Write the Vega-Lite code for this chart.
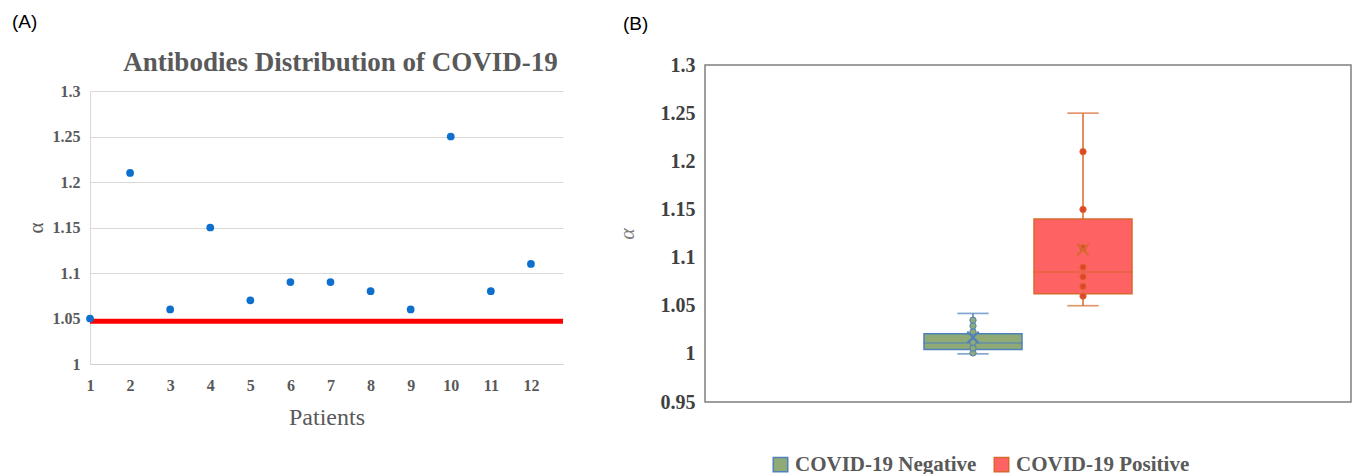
{
  "$schema": "https://vega.github.io/schema/vega-lite/v6.json",
  "padding": {"left": 12, "top": 13, "right": 2, "bottom": 0},
  "background": "white",
  "spacing": 48,
  "config": {
    "view": {"stroke": null},
    "font": "Liberation Serif",
    "title": {"font": "Liberation Sans", "fontSize": 19, "fontWeight": "normal", "color": "#000000", "anchor": "start", "frame": "bounds"}
  },
  "datasets": {
    "patients": [
      {"patient": 1, "alpha": 1.05}, {"patient": 2, "alpha": 1.21}, {"patient": 3, "alpha": 1.06},
      {"patient": 4, "alpha": 1.15}, {"patient": 5, "alpha": 1.07}, {"patient": 6, "alpha": 1.09},
      {"patient": 7, "alpha": 1.09}, {"patient": 8, "alpha": 1.08}, {"patient": 9, "alpha": 1.06},
      {"patient": 10, "alpha": 1.25}, {"patient": 11, "alpha": 1.08}, {"patient": 12, "alpha": 1.11}
    ],
    "threshold": [{"start": 1, "end": 12.8, "alpha": 1.047}],
    "boxes": [
      {"category": "1", "group": "COVID-19 Negative", "min": 1.0, "q1": 1.0045, "median": 1.0113, "q3": 1.021, "max": 1.042, "mean": 1.0172},
      {"category": "1", "group": "COVID-19 Positive", "min": 1.05, "q1": 1.0625, "median": 1.085, "q3": 1.14, "max": 1.25, "mean": 1.1083}
    ],
    "inner": [
      {"category": "1", "group": "COVID-19 Negative", "alpha": 1.001}, {"category": "1", "group": "COVID-19 Negative", "alpha": 1.006},
      {"category": "1", "group": "COVID-19 Negative", "alpha": 1.012}, {"category": "1", "group": "COVID-19 Negative", "alpha": 1.023},
      {"category": "1", "group": "COVID-19 Negative", "alpha": 1.029}, {"category": "1", "group": "COVID-19 Negative", "alpha": 1.035},
      {"category": "1", "group": "COVID-19 Positive", "alpha": 1.06}, {"category": "1", "group": "COVID-19 Positive", "alpha": 1.07},
      {"category": "1", "group": "COVID-19 Positive", "alpha": 1.08}, {"category": "1", "group": "COVID-19 Positive", "alpha": 1.09},
      {"category": "1", "group": "COVID-19 Positive", "alpha": 1.11}, {"category": "1", "group": "COVID-19 Positive", "alpha": 1.15},
      {"category": "1", "group": "COVID-19 Positive", "alpha": 1.21}
    ]
  },
  "hconcat": [
    {
      "title": {"text": "(A)", "dx": -13, "offset": 16},
      "width": 473,
      "height": 299,
      "layer": [
        {
          "data": {"name": "threshold"},
          "mark": {"type": "rule", "color": "#FF0000", "strokeWidth": 5},
          "encoding": {
            "x": {"field": "start", "type": "quantitative",
              "scale": {"domain": [1, 12.8], "nice": false, "zero": false},
              "axis": {"orient": "top", "offset": -26, "title": "Antibodies Distribution of COVID-19", "labels": false, "ticks": false, "domain": false, "grid": false,
                "titleFont": "Liberation Serif", "titleFontSize": 27, "titleFontWeight": "bold", "titleColor": "#595959", "titlePadding": 15,
                "titleX": 250, "titleAlign": "center"}},
            "x2": {"field": "end"},
            "y": {"field": "alpha", "type": "quantitative",
              "scale": {"domain": [1, 1.3], "nice": false, "zero": false, "range": [299, 26]},
              "axis": {"values": [1, 1.05, 1.1, 1.15, 1.2, 1.25, 1.3], "format": "~g", "grid": true, "gridColor": "#d9d9d9", "gridWidth": 1.2,
                "domain": true, "domainColor": "#d9d9d9", "ticks": false, "labelPadding": 10,
                "labelFont": "Liberation Serif", "labelFontSize": 16, "labelFontWeight": "bold", "labelColor": "#595959",
                "title": "α", "titleFont": "Liberation Serif", "titleFontSize": 21, "titleFontWeight": "normal", "titleColor": "#595959", "titlePadding": 6}}
          }
        },
        {
          "data": {"name": "patients"},
          "mark": {"type": "point", "filled": true, "size": 60, "color": "#0E6FCD", "opacity": 1},
          "encoding": {
            "x": {"field": "patient", "type": "quantitative",
              "axis": {"values": [1,2,3,4,5,6,7,8,9,10,11,12], "format": "d", "grid": false, "ticks": false,
                "domain": true, "domainColor": "#d0d0d0", "labelPadding": 13, "labelFlush": false,
                "labelFont": "Liberation Serif", "labelFontSize": 16, "labelFontWeight": "bold", "labelColor": "#595959",
                "title": "Patients", "titleFont": "Liberation Serif", "titleFontSize": 24, "titleFontWeight": "normal", "titleColor": "#595959", "titlePadding": 12}},
            "y": {"field": "alpha", "type": "quantitative"}
          }
        }
      ],
      "resolve": {"axis": {"x": "independent"}}
    },
    {
      "title": {"text": "(B)", "offset": 21, "dx": 8},
      "width": 646,
      "height": 337,
      "view": {"stroke": "#7f7f7f", "strokeWidth": 1.5},
      "encoding": {
        "x": {"field": "category", "type": "nominal",
          "scale": {"paddingOuter": 0.968, "paddingInner": 0},
          "axis": null},
        "xOffset": {"field": "group", "type": "nominal",
          "scale": {"domain": ["COVID-19 Negative", "COVID-19 Positive"], "paddingInner": 0, "paddingOuter": 0}}
      },
      "layer": [
        {
          "data": {"name": "boxes"},
          "mark": {"type": "rule", "strokeWidth": 1.5},
          "encoding": {
            "y": {"field": "min", "type": "quantitative",
              "scale": {"domain": [0.95, 1.3], "nice": false, "zero": false},
              "axis": {"values": [0.95, 1, 1.05, 1.1, 1.15, 1.2, 1.25, 1.3], "format": "~g", "grid": false, "domain": false, "ticks": false,
                "labelPadding": 10, "labelFont": "Liberation Serif", "labelFontSize": 20, "labelFontWeight": "bold", "labelColor": "#404040",
                "title": "α", "titleFont": "Liberation Serif", "titleFontStyle": "italic", "titleFontSize": 22, "titleFontWeight": "normal", "titleColor": "#7f7f7f", "titlePadding": 22}},
            "y2": {"field": "max"},
            "stroke": {"field": "group", "type": "nominal",
              "scale": {"domain": ["COVID-19 Negative", "COVID-19 Positive"], "range": ["#4F81BD", "#D7692F"]}}
          }
        },
        {
          "data": {"name": "boxes"},
          "mark": {"type": "tick", "filled": false, "size": 30, "thickness": 0.3, "strokeWidth": 1.4},
          "encoding": {
            "y": {"field": "min", "type": "quantitative"},
            "stroke": {"field": "group", "type": "nominal"}
          }
        },
        {
          "data": {"name": "boxes"},
          "mark": {"type": "tick", "filled": false, "size": 30, "thickness": 0.3, "strokeWidth": 1.4},
          "encoding": {
            "y": {"field": "max", "type": "quantitative"},
            "stroke": {"field": "group", "type": "nominal"}
          }
        },
        {
          "data": {"name": "boxes"},
          "mark": {"type": "bar", "width": 98, "strokeWidth": 1.5, "opacity": 1},
          "encoding": {
            "y": {"field": "q1", "type": "quantitative"},
            "y2": {"field": "q3"},
            "fill": {"field": "group", "type": "nominal",
              "scale": {"domain": ["COVID-19 Negative", "COVID-19 Positive"], "range": ["#8FAA75", "#FF6262"]},
              "legend": {"orient": "none", "legendX": 680, "legendY": 389, "direction": "horizontal", "title": null,
                "symbolType": "square", "symbolSize": 210, "symbolStrokeWidth": 1.5, "symbolOpacity": 1, "columnPadding": 14, "labelLimit": 400,
                "labelFont": "Liberation Serif", "labelFontSize": 21, "labelFontWeight": "bold", "labelColor": "#595959",
                "encode": {"symbols": {"update": {"opacity": {"value": 1}, "fillOpacity": {"value": 1}, "strokeOpacity": {"value": 1}}}}}},
            "stroke": {"field": "group", "type": "nominal",
              "legend": {"orient": "none", "legendX": 680, "legendY": 389, "direction": "horizontal", "title": null,
                "symbolType": "square", "symbolSize": 210, "symbolStrokeWidth": 1.5, "symbolOpacity": 1, "columnPadding": 14, "labelLimit": 400,
                "labelFont": "Liberation Serif", "labelFontSize": 21, "labelFontWeight": "bold", "labelColor": "#595959",
                "encode": {"symbols": {"update": {"opacity": {"value": 1}, "fillOpacity": {"value": 1}, "strokeOpacity": {"value": 1}}}}}}
          }
        },
        {
          "data": {"name": "boxes"},
          "mark": {"type": "tick", "filled": false, "size": 98, "thickness": 0.3, "strokeWidth": 1.4},
          "encoding": {
            "y": {"field": "median", "type": "quantitative"},
            "stroke": {"field": "group", "type": "nominal"}
          }
        },
        {
          "data": {"name": "inner"},
          "mark": {"type": "point", "filled": true, "size": 40, "strokeWidth": 1, "opacity": 1},
          "encoding": {
            "y": {"field": "alpha", "type": "quantitative"},
            "color": {"field": "group", "type": "nominal",
              "scale": {"domain": ["COVID-19 Negative", "COVID-19 Positive"], "range": ["#8FAA75", "#E2432A"]}, "legend": null},
            "stroke": {"field": "group", "type": "nominal"}
          }
        },
        {
          "data": {"name": "boxes"},
          "mark": {"type": "point", "shape": "M-1,-1L1,1M1,-1L-1,1", "filled": false, "size": 130, "strokeWidth": 2, "opacity": 1},
          "encoding": {
            "y": {"field": "mean", "type": "quantitative"},
            "stroke": {"field": "group", "type": "nominal"}
          }
        }
      ]
    }
  ]
}
